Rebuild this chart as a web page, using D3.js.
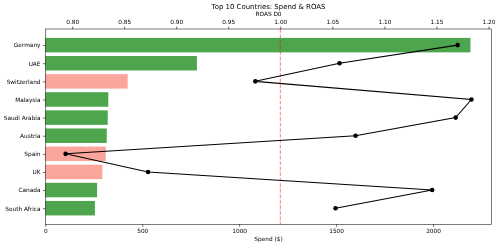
<!DOCTYPE html>
<html>
<head>
<meta charset="utf-8">
<script src="https://cdn.jsdelivr.net/npm/d3@7"></script>
<style>
  html, body { margin: 0; padding: 0; background: #fff; }
  svg { display: block; font-family: "DejaVu Sans", sans-serif; will-change: transform; -webkit-font-smoothing: antialiased; }
</style>
</head>
<body>
<svg id="chart" width="500" height="246"></svg>
<script>
const countries = ["Germany", "UAE", "Switzerland", "Malaysia", "Saudi Arabia", "Austria", "Spain", "UK", "Canada", "South Africa"];
const spend = [2193, 782, 425, 325, 322, 317, 312, 294, 267, 256];
const roas = [1.1704, 1.0569, 0.976, 1.1836, 1.1685, 1.0723, 0.7937, 0.8729, 1.1459, 1.0531];
const spendTicks = [0, 500, 1000, 1500, 2000];
const roasTicks = [0.80, 0.85, 0.90, 0.95, 1.00, 1.05, 1.10, 1.15, 1.20];
const breakEven = 1.0;
const title = "Top 10 Countries: Spend & ROAS";
const xLabel = "Spend ($)";
const topLabel = "ROAS D0";

const W = 500, H = 246;
const L = 45.3, R = 491.7, T = 29, B = 224.3;
const svg = d3.select("#chart");

const xSpend = d3.scaleLinear().domain([0, d3.max(spend) * 1.05]).range([L, R]);
const rMin = d3.min(roas), rMax = d3.max(roas), rPad = (rMax - rMin) * 0.05;
const xRoas = d3.scaleLinear().domain([rMin - rPad, rMax + rPad]).range([L, R]);
const n = countries.length;
const barH = 0.8;
const yPad = (n - 1 + barH) * 0.05;
const y = d3.scaleLinear().domain([-barH / 2 - yPad, n - 1 + barH / 2 + yPad]).range([T, B]);

const green = "rgb(77,166,77)";
const salmon = "rgb(251,166,156)";

// bars
svg.append("g").selectAll("rect").data(countries).join("rect")
  .attr("x", xSpend(0))
  .attr("y", (d, i) => y(i - barH / 2))
  .attr("width", (d, i) => xSpend(spend[i]) - xSpend(0))
  .attr("height", (d, i) => y(i + barH / 2) - y(i - barH / 2))
  .attr("fill", (d, i) => roas[i] >= breakEven ? green : salmon);

// break-even line
svg.append("line")
  .attr("x1", xRoas(breakEven)).attr("x2", xRoas(breakEven))
  .attr("y1", T).attr("y2", B)
  .attr("stroke", "red").attr("stroke-opacity", 0.5)
  .attr("stroke-width", 1.04)
  .attr("stroke-dasharray", "3.85,1.66");

// ROAS line
const line = d3.line().x((d, i) => xRoas(d)).y((d, i) => y(i));
svg.append("path").datum(roas)
  .attr("d", line).attr("fill", "none")
  .attr("stroke", "#000").attr("stroke-width", 1.04);
svg.append("g").selectAll("circle").data(roas).join("circle")
  .attr("cx", d => xRoas(d)).attr("cy", (d, i) => y(i))
  .attr("r", 2.3).attr("fill", "#000");

// spines
svg.append("rect")
  .attr("x", L).attr("y", T).attr("width", R - L).attr("height", B - T)
  .attr("fill", "none").attr("stroke", "#222").attr("stroke-width", 0.6);

const fs = 5.8;
function styleAxis(g) {
  g.select(".domain").remove();
  g.selectAll(".tick line").attr("stroke", "#000").attr("stroke-width", 0.6);
  g.selectAll(".tick text").attr("font-size", fs).attr("font-family", "DejaVu Sans").attr("fill", "#000");
}

// bottom axis
svg.append("g").attr("transform", `translate(0,${B})`)
  .call(d3.axisBottom(xSpend).tickValues(spendTicks).tickFormat(d3.format("d")).tickSize(2.4).tickPadding(2.4))
  .call(styleAxis);

// top axis
svg.append("g").attr("transform", `translate(0,${T})`)
  .call(d3.axisTop(xRoas).tickValues(roasTicks).tickFormat(d3.format(".2f")).tickSize(2.4).tickPadding(2.4))
  .call(styleAxis);

// left axis
svg.append("g").attr("transform", `translate(${L},0)`)
  .call(d3.axisLeft(y).tickValues(d3.range(n)).tickFormat(i => countries[i]).tickSize(2.4).tickPadding(2.4))
  .call(styleAxis);

// labels
svg.append("text").attr("x", (L + R) / 2).attr("y", 241)
  .attr("text-anchor", "middle").attr("font-size", fs).attr("fill", "#000").text(xLabel);
svg.append("text").attr("x", (L + R) / 2).attr("y", 16)
  .attr("text-anchor", "middle").attr("font-size", fs).attr("fill", "#000").text(topLabel);
svg.append("text").attr("x", (L + R) / 2).attr("y", 9.3)
  .attr("text-anchor", "middle").attr("font-size", 6.94).attr("fill", "#000").text(title);
</script>
</body>
</html>
